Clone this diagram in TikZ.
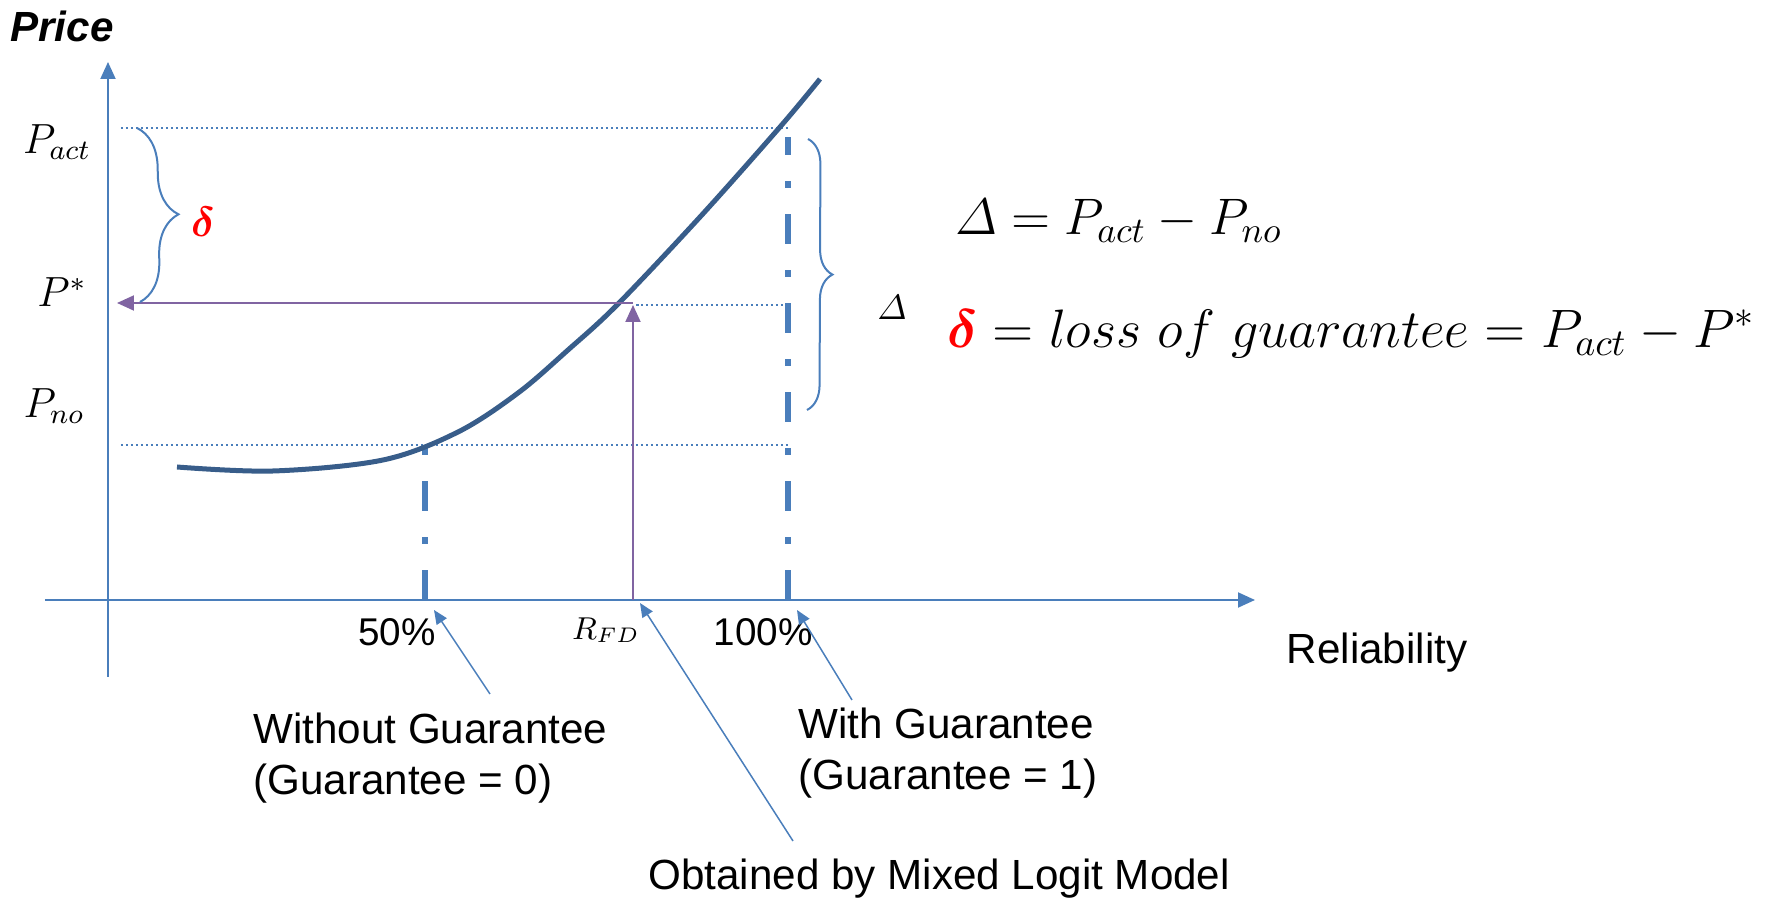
\documentclass[tikz,border=0pt]{standalone}
\usepackage{fix-cm}
\usepackage{amsmath}
\usepackage{fontspec}
\newfontfamily\arialfont{Liberation Sans}
\usetikzlibrary{arrows.meta,decorations.pathreplacing}
\definecolor{axisblue}{RGB}{74,126,187}
\definecolor{curveblue}{RGB}{56,93,138}
\definecolor{lilac}{RGB}{128,100,162}
\begin{document}
\begin{tikzpicture}[line cap=butt,line join=miter,>={Triangle[length=0.17cm,width=0.15cm]},
		txt/.style={font=\arialfont\fontsize{12}{14.4}\selectfont},
		tick/.style={font=\arialfont\fontsize{11}{13}\selectfont},
		mth/.style={font=\fontsize{12}{14}\selectfont},
		eq/.style={font=\fontsize{#1}{18}\selectfont},
		level/.style={axisblue,line width=0.025cm,dash pattern=on 0.025cm off 0.025cm},
		guide/.style={axisblue,line width=0.06cm,dash pattern=on 0.30cm off 0.26cm on 0.07cm off 0.26cm},
		note/.style={axisblue,line width=0.015cm,->,>={Triangle[length=0.14cm,width=0.12cm]}},
		pick/.style={lilac,line width=0.02cm,->},
		curly/.style={axisblue,line width=0.02cm,decorate,decoration={brace,amplitude=#1}}]
	\useasboundingbox (-1.08,-2.98) rectangle (16.69,6.00);
	% axes
	\draw[axisblue,line width=0.02cm,->] (0,-0.77)--(0,5.38);
	\draw[axisblue,line width=0.02cm,->] (-0.63,0)--(11.47,0);
	\node[txt,font=\arialfont\bfseries\itshape\fontsize{12}{14.4}\selectfont] (price) at (-0.46,5.74) {Price};
	\node[txt] (reliab) at (12.69,-0.53) {Reliability};
	% price levels
	\coordinate (act) at (6.80,4.72);
	\coordinate (no) at (6.80,1.55);
	\coordinate (half) at (3.17,1.55);
	\coordinate (rfd) at (5.25,0);
	\coordinate (rfdtop) at (5.25,2.97);
	\coordinate (pstar) at (0.09,2.97);
	\draw[level] (0.13,4.72)--(act);
	\draw[level] (0.13,1.55)--(no);
	\draw[level] (5.28,2.95)--(6.80,2.95);
	\node[mth] (pact) at (-0.51,4.58) {$P_{act}$};
	\node[mth] (pst) at (-0.46,3.08) {$P^{*}$};
	\node[mth] (pno) at (-0.54,1.94) {$P_{no}$};
	% reliability marks
	\draw[guide] (3.17,0)--(half);
	\draw[guide] (6.80,0)--(6.80,4.63);
	\node[tick] (fifty) at (2.89,-0.32) {50\%};
	\node[font=\fontsize{9}{11}\selectfont] (rfdlab) at (4.98,-0.30) {$R_{FD}$};
	\node[tick] (hundred) at (6.55,-0.32) {100\%};
	% price curve
	\draw[curveblue,line width=0.05cm] plot[smooth,tension=0.55] coordinates
		{(0.69,1.33) (1.65,1.29) (2.75,1.40) (3.50,1.68) (4.10,2.07) (4.60,2.50) (5.09,2.95) (5.92,3.83) (6.72,4.73) (7.12,5.21)};
	% mixed logit reading
	\draw[pick] (rfd)--(5.25,2.95);
	\draw[pick] (rfdtop)--(pstar);
	% braces
	\draw[curly=0.40cm] (0.29,4.72)--(0.32,2.98);
	\node[mth,text=red] (dsmall) at (0.95,3.78) {$\boldsymbol{\delta}$};
	\draw[curly=0.25cm] (7.00,4.61)--(6.99,1.90);
	\node[font=\fontsize{10}{11}\selectfont] (dbig) at (7.84,2.93) {$\varDelta$};
	% formulas
	\node[eq=14.6,anchor=west] (eqone) at (8.35,3.79) {$\varDelta = P_{act} - P_{no}$};
	\node[eq=15.4,anchor=west] (eqtwo) at (8.27,2.66) {$\textcolor{red}{\boldsymbol{\delta}} = loss\ of\ guarantee = P_{act} - P^{*}$};
	% notes
	\node[txt,anchor=west,align=left] (without) at (1.33,-1.58) {Without Guarantee\\(Guarantee = 0)};
	\node[txt,anchor=west,align=left] (with) at (6.78,-1.53) {With Guarantee\\(Guarantee = 1)};
	\node[txt,anchor=west] (mixed) at (5.28,-2.79) {Obtained by Mixed Logit Model};
	\coordinate (wo) at (3.82,-0.94);
	\coordinate (wi) at (7.44,-1.00);
	\coordinate (mx) at (6.85,-2.41);
	\draw[note] (wo)--(3.26,-0.10);
	\draw[note] (mx)--(5.32,-0.03);
	\draw[note] (wi)--(6.89,-0.10);
\end{tikzpicture}
\end{document}
